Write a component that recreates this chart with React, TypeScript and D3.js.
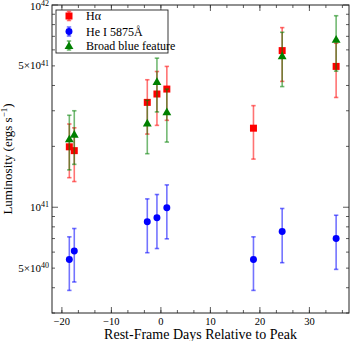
import React from "react";
import * as d3 from "d3";

// luminosities are in units of 1e41 erg/s
const UNIT = 1e41;

const haDays = [-18.5, -17.5, -2.75, -0.8, 1.2, 18.7, 24.5, 35.4];
const haLum = [1.99, 1.905, 3.3, 3.63, 3.84, 2.46, 5.95, 4.97];
const haLo = [1.4, 1.34, 2.3, 2.54, 2.69, 1.73, 4.19, 3.49];
const haHi = [2.58, 2.47, 4.27, 4.69, 4.97, 3.18, 7.73, 6.47];

const heDays = [-18.5, -17.5, -2.75, -0.8, 1.2, 18.7, 24.5, 35.4];
const heLum = [0.552, 0.607, 0.847, 0.888, 0.994, 0.552, 0.759, 0.701];
const heLo = [0.388, 0.427, 0.596, 0.625, 0.698, 0.388, 0.532, 0.493];
const heHi = [0.714, 0.785, 1.1, 1.156, 1.29, 0.714, 0.986, 0.913];

const bbDays = [-18.5, -17.5, -2.75, -0.8, 1.2, 24.5, 35.4];
const bbLum = [2.18, 2.3, 2.61, 4.19, 2.97, 5.62, 6.78];
const bbLo = [1.53, 1.63, 1.84, 2.96, 2.1, 3.95, 4.71];
const bbHi = [2.85, 3.0, 3.38, 5.46, 3.84, 7.33, 8.85];

const xTicks = [-20, -10, 0, 10, 20, 30];
const yLabelled = [
  { v: 1e42, pre: "10", exp: "42" },
  { v: 5e41, pre: "5×10", exp: "41" },
  { v: 1e41, pre: "10", exp: "41" },
  { v: 5e40, pre: "5×10", exp: "40" },
];

const width = 350;
const height = 341;
const plot = { left: 52, right: 349, top: 5, bottom: 313 };

const x = d3.scaleLinear().domain([-22, 38]).range([plot.left, plot.right]);
const y = d3.scaleLog().domain([3e40, 1e42]).range([plot.bottom, plot.top]);

type Series = {
  name: string;
  color: string;
  shape: d3.SymbolType;
  size: number;
  days: number[];
  lum: number[];
  lo: number[];
  hi: number[];
};

const series: Series[] = [
  { name: "Hα", color: "#ff0000", shape: d3.symbolSquare, size: 49, days: haDays, lum: haLum, lo: haLo, hi: haHi },
  { name: "He I 5875Å", color: "#0000ff", shape: d3.symbolCircle, size: 38, days: heDays, lum: heLum, lo: heLo, hi: heHi },
  { name: "Broad blue feature", color: "#008000", shape: d3.symbolTriangle, size: 34, days: bbDays, lum: bbLum, lo: bbLo, hi: bbHi },
];

const font = "'Liberation Serif', 'Times New Roman', serif";

function ErrBar({ cx, y0, y1, color }: { cx: number; y0: number; y1: number; color: string }) {
  return (
    <g stroke={color} strokeOpacity={0.55} strokeWidth={1.6}>
      <line x1={cx} x2={cx} y1={y0} y2={y1} />
      <line x1={cx - 2.2} x2={cx + 2.2} y1={y0} y2={y0} />
      <line x1={cx - 2.2} x2={cx + 2.2} y1={y1} y2={y1} />
    </g>
  );
}

export default function App() {
  const xMinor = d3.range(-20, 38, 10 / 3).filter((d) => d >= -22 && d <= 38);
  const yMinor: number[] = [];
  [1e40, 1e41].forEach((dec) => {
    for (let k = 2; k <= 9; k++) {
      const v = k * dec;
      if (v >= 3e40 && v <= 1e42) yMinor.push(v);
    }
  });
  const yMajor = [1e41, 1e42];

  return (
    <svg
      width={width}
      height={height}
      style={{ position: "absolute", left: 0, top: 0, background: "#fff" }}
      fontFamily={font}
    >
      <g>
        {series.map((s) => (
          <g key={s.name}>
            {s.days.map((d, i) => (
              <ErrBar key={"e" + i} cx={x(d)} y0={y(s.lo[i] * UNIT)} y1={y(s.hi[i] * UNIT)} color={s.color} />
            ))}
            {s.days.map((d, i) => (
              <path
                key={"m" + i}
                d={d3.symbol(s.shape, s.size)() as string}
                transform={`translate(${x(d)},${y(s.lum[i] * UNIT) + (s.shape === d3.symbolTriangle ? 1 : 0)})`}
                fill={s.color}
              />
            ))}
          </g>
        ))}
      </g>

      {/* ticks */}
      <g stroke="#333" strokeWidth={0.8}>
        {xTicks.map((t) => (
          <g key={"xt" + t}>
            <line x1={x(t)} x2={x(t)} y1={plot.bottom} y2={plot.bottom - 6} />
            <line x1={x(t)} x2={x(t)} y1={plot.top} y2={plot.top + 6} />
          </g>
        ))}
        {xMinor.map((t, i) => (
          <g key={"xm" + i}>
            <line x1={x(t)} x2={x(t)} y1={plot.bottom} y2={plot.bottom - 3} />
            <line x1={x(t)} x2={x(t)} y1={plot.top} y2={plot.top + 3} />
          </g>
        ))}
        {yMajor.map((v) => (
          <g key={"ym" + v}>
            <line x1={plot.left} x2={plot.left + 6} y1={y(v)} y2={y(v)} />
            <line x1={plot.right} x2={plot.right - 6} y1={y(v)} y2={y(v)} />
          </g>
        ))}
        {yMinor.map((v) => (
          <g key={"yn" + v}>
            <line x1={plot.left} x2={plot.left + 3} y1={y(v)} y2={y(v)} />
            <line x1={plot.right} x2={plot.right - 3} y1={y(v)} y2={y(v)} />
          </g>
        ))}
      </g>

      <rect
        x={plot.left}
        y={plot.top}
        width={plot.right - plot.left}
        height={plot.bottom - plot.top}
        fill="none"
        stroke="#222"
        strokeWidth={1}
      />

      {/* x tick labels */}
      {xTicks.map((t) => (
        <text key={"xl" + t} x={x(t)} y={324.5} textAnchor="middle" fontSize={10.5} fill="#000">
          {t < 0 ? "\u2212" + Math.abs(t) : String(t)}
        </text>
      ))}

      {/* y tick labels */}
      {yLabelled.map((l) => (
        <text key={"yl" + l.v} x={plot.left - 3} y={Math.max(y(l.v) + 3.5, 9.5)} textAnchor="end" fontSize={11} fill="#000">
          {l.pre}
          <tspan fontSize={8} dy={-3.5}>
            {l.exp}
          </tspan>
        </text>
      ))}

      {/* axis labels */}
      <text x={(plot.left + plot.right) / 2} y={338.5} textAnchor="middle" fontSize={14} fill="#000">
        Rest-Frame Days Relative to Peak
      </text>
      <text
        transform={`translate(12,${(plot.top + plot.bottom) / 2}) rotate(-90)`}
        textAnchor="middle"
        fontSize={13}
        fill="#000"
      >
        Luminosity (ergs s
        <tspan fontSize={9} dy={-5}>
          −1
        </tspan>
        <tspan dy={5}>)</tspan>
      </text>

      {/* legend */}
      <g>
        <rect x={56} y={10} width={112} height={43} fill="#fff" stroke="#222" strokeWidth={0.9} />
        {series.map((s, i) => {
          const ly = [16, 31.5, 45.5][i];
          return (
            <g key={"lg" + s.name}>
              <ErrBar cx={69} y0={ly - 4.5} y1={ly + 4.5} color={s.color} />
              <path
                d={d3.symbol(s.shape, s.size)() as string}
                transform={`translate(69,${ly + (s.shape === d3.symbolTriangle ? 1 : 0)})`}
                fill={s.color}
              />
              <text x={86} y={ly + 4} fontSize={12} fill="#000">
                {s.name}
              </text>
            </g>
          );
        })}
      </g>
    </svg>
  );
}
